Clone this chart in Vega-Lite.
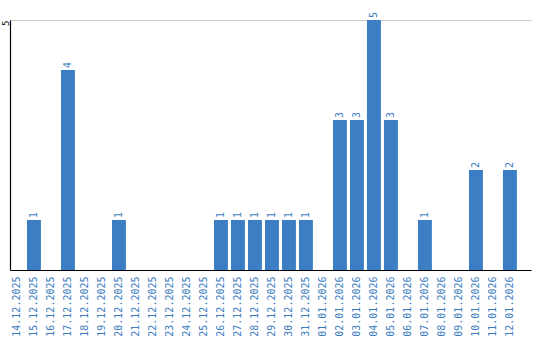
{
  "$schema": "https://vega.github.io/schema/vega-lite/v6.json",
  "autosize": "none",
  "width": 521,
  "height": 250,
  "padding": {"left": 10, "top": 20, "right": 9, "bottom": 70},
  "background": "white",
  "data": {"values": [
    {"date": "14.12.2025", "n": 0},
    {"date": "15.12.2025", "n": 1},
    {"date": "16.12.2025", "n": 0},
    {"date": "17.12.2025", "n": 4},
    {"date": "18.12.2025", "n": 0},
    {"date": "19.12.2025", "n": 0},
    {"date": "20.12.2025", "n": 1},
    {"date": "21.12.2025", "n": 0},
    {"date": "22.12.2025", "n": 0},
    {"date": "23.12.2025", "n": 0},
    {"date": "24.12.2025", "n": 0},
    {"date": "25.12.2025", "n": 0},
    {"date": "26.12.2025", "n": 1},
    {"date": "27.12.2025", "n": 1},
    {"date": "28.12.2025", "n": 1},
    {"date": "29.12.2025", "n": 1},
    {"date": "30.12.2025", "n": 1},
    {"date": "31.12.2025", "n": 1},
    {"date": "01.01.2026", "n": 0},
    {"date": "02.01.2026", "n": 3},
    {"date": "03.01.2026", "n": 3},
    {"date": "04.01.2026", "n": 5},
    {"date": "05.01.2026", "n": 3},
    {"date": "06.01.2026", "n": 0},
    {"date": "07.01.2026", "n": 1},
    {"date": "08.01.2026", "n": 0},
    {"date": "09.01.2026", "n": 0},
    {"date": "10.01.2026", "n": 2},
    {"date": "11.01.2026", "n": 0},
    {"date": "12.01.2026", "n": 2}
  ]},
  "config": {"view": {"stroke": null}},
  "encoding": {
    "x": {
      "field": "date", "type": "ordinal", "sort": null,
      "scale": {"paddingInner": 0.18, "paddingOuter": 0.415, "align": 0},
      "axis": {
        "title": null, "labelAngle": -90, "labelAlign": "right", "labelBaseline": "middle",
        "labelPadding": 6, "ticks": false, "domainColor": "#000000", "domainWidth": 1.2,
        "labelFont": "DejaVu Sans Mono", "labelFontSize": 10, "labelColor": "#3a7cc0"
      }
    },
    "y": {
      "field": "n", "type": "quantitative",
      "scale": {"domain": [0, 5], "nice": false},
      "axis": {
        "title": null, "values": [5], "ticks": false, "labelAngle": -90,
        "labelAlign": "right", "labelBaseline": "alphabetic", "labelPadding": 2,
        "labelFont": "DejaVu Sans Mono", "labelFontSize": 9, "labelColor": "#000000",
        "domainColor": "#000000", "domainWidth": 1.2, "gridColor": "#cccccc", "gridWidth": 1
      }
    }
  },
  "layer": [
    {"mark": {"type": "bar", "color": "#3b7ec3"}},
    {
      "transform": [{"filter": "datum.n > 0"}],
      "mark": {"type": "text", "angle": -90, "align": "left", "baseline": "middle", "dx": 2,
               "font": "DejaVu Sans Mono", "fontSize": 10, "color": "#3a7cc0"},
      "encoding": {"text": {"field": "n", "type": "quantitative"}}
    }
  ]
}
